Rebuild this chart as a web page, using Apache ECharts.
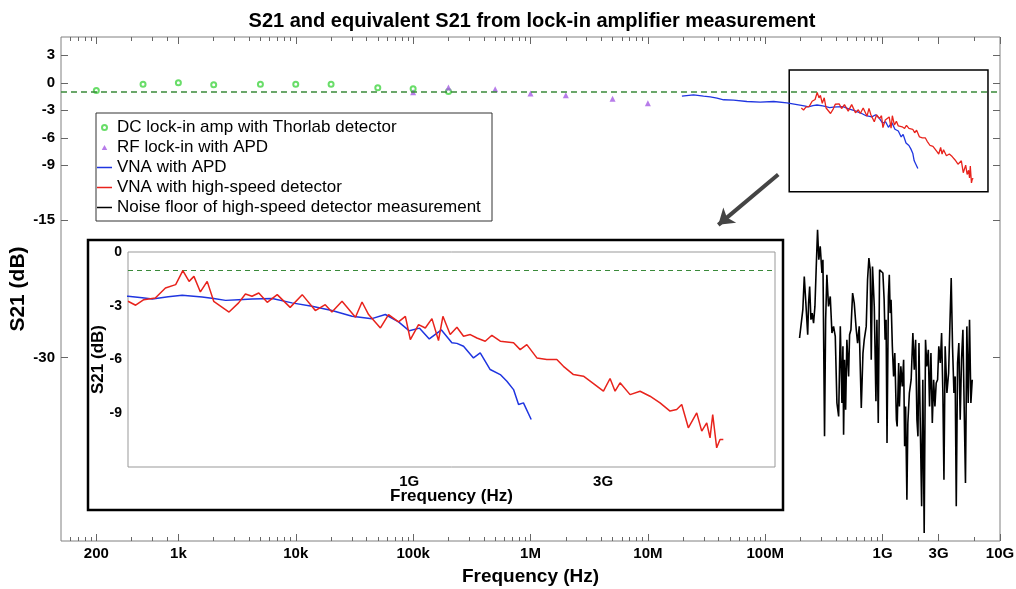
<!DOCTYPE html>
<html><head><meta charset="utf-8">
<script src="https://cdn.jsdelivr.net/npm/echarts@6/dist/echarts.min.js"></script>
<style>html,body{margin:0;padding:0;background:#fff}#c{width:1016px;height:589px}</style>
</head><body><div id="c"></div>
<script>
// ---- data (frequency in Hz, S21 in dB) ----
const dcLockIn = [[200,-0.84],[500,-0.15],[1000,0.0],[2000,-0.22],[5000,-0.15],[1e4,-0.15],[2e4,-0.15],[5e4,-0.55],[1e5,-0.65],[2e5,-0.95]];
const rfLockIn = [[1e5,-1.02],[2e5,-0.51],[5e5,-0.69],[1e6,-1.16],[2e6,-1.35],[5e6,-1.75],[1e7,-2.22]];
const vnaApd = [[1.95e7,-1.45],[2.45e7,-1.31],[2.98e7,-1.45],[3.4e7,-1.53],[3.88e7,-1.67],[4.42e7,-1.85],[5.37e7,-1.89],[6.98e7,-2.04],[9.06e7,-2.11],[1.18e8,-2.04],[1.53e8,-2.2],
  [2.03e8,-2.47],[2.2e8,-2.55],[2.33e8,-2.62],[2.55e8,-2.5],[2.76e8,-2.42],[3.09e8,-2.51],[3.3e8,-2.6],[3.53e8,-2.70],[3.8e8,-2.66],[4.10e8,-2.62],[4.60e8,-2.60],[5.14e8,-2.84],[5.76e8,-3.03],[6.45e8,-3.27],[7.23e8,-3.59],[8.09e8,-3.72],[8.73e8,-3.49],[9.41e8,-3.90],
  [1.0e9,-4.4],[1.06e9,-4.25],[1.12e9,-4.85],[1.2e9,-4.35],[1.273e9,-5.07],[1.31e9,-5.1],[1.36e9,-5.26],[1.439e9,-5.91],[1.495e9,-5.63],[1.582e9,-6.56],[1.675e9,-6.84],[1.739e9,-7.21],[1.806e9,-7.68],[1.858e9,-8.51],[1.91e9,-8.42],[1.996e9,-9.35]];
const vnaHighSpeed = [[2.03e8,-2.75],[2.12e8,-2.97],[2.22e8,-2.66],[2.37e8,-2.57],[2.51e8,-2.01],[2.66e8,-1.82],[2.77e8,-1.04],[2.87e8,-1.64],[2.95e8,-1.36],[3.06e8,-2.23],[3.18e8,-1.64],[3.30e8,-2.75],[3.60e8,-3.35],[3.80e8,-2.84],[3.95e8,-2.34],[4.10e8,-2.47],[4.26e8,-2.29],[4.47e8,-2.81],[4.73e8,-2.38],[5.09e8,-3.09],[5.45e8,-2.38],[5.87e8,-3.27],[6.21e8,-2.94],[6.45e8,-3.35],[6.83e8,-2.75],[7.37e8,-3.64],[7.65e8,-2.79],[7.94e8,-3.49],[8.49e8,-4.24],[8.89e8,-3.49],[9.41e8,-3.90],[9.78e8,-3.59],
  [1.006e9,-4.89],[1.054e9,-4.05],[1.095e9,-4.24],[1.137e9,-3.72],[1.180e9,-4.94],[1.210e9,-3.59],[1.261e9,-4.61],[1.310e9,-4.20],[1.360e9,-4.70],[1.413e9,-4.61],[1.467e9,-4.80],[1.538e9,-4.98],[1.597e9,-4.65],[1.675e9,-4.98],[1.806e9,-5.07],[1.875e9,-5.45],[1.947e9,-5.17],[2.061e9,-5.91],[2.181e9,-6.00],[2.308e9,-6.00],[2.396e9,-6.38],[2.536e9,-6.84],[2.684e9,-6.93],[2.788e9,-7.21],[2.895e9,-7.49],[3.006e9,-7.77],[3.121e9,-7.06],[3.211e9,-7.77],[3.303e9,-7.30],[3.496e9,-7.96],[3.700e9,-7.77],[3.914e9,-8.05],[4.143e9,-8.42],[4.385e9,-8.88],[4.554e9,-8.79],[4.685e9,-8.51],[4.864e9,-9.81],[5.101e9,-8.98],[5.248e9,-10.0],[5.399e9,-9.54],[5.501e9,-10.37],[5.585e9,-9.07],[5.712e9,-10.93],[5.821e9,-10.46],[5.931e9,-10.46]];
const noiseFloor = [[1.96e8,-27.85],[2.01e8,-28.04],[2.09e8,-24.76],[2.15e8,-21.13],[2.21e8,-23.67],[2.26e8,-25.85],[2.30e8,-27.49],[2.34e8,-24.04],[2.39e8,-22.22],[2.45e8,-25.85],[2.51e8,-25.13],[2.58e8,-26.22],[2.65e8,-24.40],[2.72e8,-20.04],[2.79e8,-16.04],[2.86e8,-19.31],[2.94e8,-17.85],[3.04e8,-20.76],[3.10e8,-19.31],[3.20e8,-38.58],[3.27e8,-25.85],[3.35e8,-20.95],[3.46e8,-24.40],[3.58e8,-23.31],[3.70e8,-27.31],[3.82e8,-26.58],[3.95e8,-27.67],[4.08e8,-34.94],[4.22e8,-36.40],[4.36e8,-26.58],[4.50e8,-34.94],[4.59e8,-28.76],[4.65e8,-38.40],[4.74e8,-30.22],[4.84e8,-35.67],[4.96e8,-28.04],[5.13e8,-32.04],[5.23e8,-27.49],[5.37e8,-26.94],[5.55e8,-22.94],[5.73e8,-24.04],[5.96e8,-26.94],[6.12e8,-28.40],[6.32e8,-26.58],[6.58e8,-35.49],[6.80e8,-29.49],[6.97e8,-28.04],[7.25e8,-26.58],[7.44e8,-21.49],[7.64e8,-19.13],[7.84e8,-20.40],[8.00e8,-30.22],[8.20e8,-20.04],[8.49e8,-24.40],[8.77e8,-34.76],[8.94e8,-25.85],[9.18e8,-37.13],[9.42e8,-20.40],[9.54e8,-20.40],[1.005e9,-20.76],[1.03e9,-23.67],[1.05e9,-28.04],[1.07e9,-25.85],[1.09e9,-39.31],[1.12e9,-23.31],[1.14e9,-20.95],[1.16e9,-25.13],[1.18e9,-23.67],[1.21e9,-28.76],[1.24e9,-32.04],[1.27e9,-29.49],[1.31e9,-36.76],[1.33e9,-37.49],[1.37e9,-30.58],[1.39e9,-35.31],[1.43e9,-30.94],[1.47e9,-33.13],[1.51e9,-30.22],[1.54e9,-39.67],[1.57e9,-35.31],[1.61e9,-45.49],[1.64e9,-37.13],[1.69e9,-33.85],[1.75e9,-32.40],[1.81e9,-27.31],[1.86e9,-31.31],[1.91e9,-28.04],[1.96e9,-36.76],[2.00e9,-38.58],[2.04e9,-28.40],[2.09e9,-36.76],[2.15e9,-46.22],[2.20e9,-32.40],[2.26e9,-49.13],[2.32e9,-28.04],[2.38e9,-30.94],[2.45e9,-29.13],[2.51e9,-35.31],[2.58e9,-29.49],[2.65e9,-37.13],[2.72e9,-32.40],[2.79e9,-35.31],[2.86e9,-32.76],[2.94e9,-32.40],[3.01e9,-28.76],[3.10e9,-30.58],[3.18e9,-27.31],[3.26e9,-33.85],[3.33e9,-43.31],[3.41e9,-28.76],[3.53e9,-33.85],[3.65e9,-31.67],[3.74e9,-26.58],[3.84e9,-21.31],[3.94e9,-28.76],[4.05e9,-33.85],[4.15e9,-32.04],[4.24e9,-46.22],[4.35e9,-30.58],[4.46e9,-28.40],[4.58e9,-36.76],[4.70e9,-30.22],[4.83e9,-26.94],[4.95e9,-35.31],[5.08e9,-43.67],[5.22e9,-26.58],[5.36e9,-34.94],[5.50e9,-25.85],[5.65e9,-34.94],[5.80e9,-32.40]];
const seriesNames = ['DC lock-in amp with Thorlab detector','RF lock-in with APD','VNA with APD','VNA with high-speed detector','Noise floor of high-speed detector measurement'];
const referenceLevel = -1;
// tick labels
const xMajorTicks = [200,1e3,1e4,1e5,1e6,1e7,1e8,1e9,3e9,1e10];
const xMajorLabels = ['200','1k','10k','100k','1M','10M','100M','1G','3G','10G'];
const xMinorTicks = [120,140,160,180,400,600,800,
  2e3,3e3,4e3,5e3,6e3,7e3,8e3,9e3, 2e4,3e4,4e4,5e4,6e4,7e4,8e4,9e4,
  2e5,3e5,4e5,5e5,6e5,7e5,8e5,9e5, 2e6,3e6,4e6,5e6,6e6,7e6,8e6,9e6,
  2e7,3e7,4e7,5e7,6e7,7e7,8e7,9e7, 2e8,3e8,4e8,5e8,6e8,7e8,8e8,9e8, 2e9,6e9];
const yMainTicks = [3,0,-3,-6,-9,-15,-30];
const insetXTicks = [1e9,3e9];
const insetXLabels = ['1G','3G'];
const insetYTicks = [0,-3,-6,-9];
// zoom box + arrow annotation (data coordinates)
const zoomBox = [[1.6e8,1.4],[7.9e9,-11.9]];
const arrowLine = [[1.29e8,-10],[3.98e7,-15.5]];

const FONT = 'Liberation Sans, Arial, Helvetica, sans-serif';
const TICKC = '#666';
const LINE_ICON = 'path://M0,0H10V1H0Z';
const TRI_ICON = 'path://M5,0L10,9H0Z';
function fmt(ticks, labels){
  return function(v){
    for (let i=0;i<ticks.length;i++){ if (Math.abs(Math.log10(v)-Math.log10(ticks[i]))<1e-6) return labels[i]; }
    return '';
  };
}
function xAxisBase(grid, pos, min, max){
  return {type:'log', logBase:10, gridIndex:grid, position:pos, min:min, max:max,
    axisLine:{show:false, onZero:false}, splitLine:{show:false}, minorTick:{show:false}, minorSplitLine:{show:false}};
}
const chart = echarts.init(document.getElementById('c'), null, {renderer:'canvas'});
const option = {
  animation:false,
  backgroundColor:'#fff',
  title:{text:'S21 and equivalent S21 from lock-in amplifier measurement', left:527, textAlign:'center', top:6,
    textStyle:{fontFamily:FONT, fontSize:20, fontWeight:'bold', color:'#000'}},
  legend:{
    orient:'vertical', left:96, top:113, padding:[6,3,5,1], itemGap:3, itemWidth:15, itemHeight:5,
    borderColor:'#333', borderWidth:1, selectedMode:false, backgroundColor:'#fff',
    textStyle:{fontFamily:FONT, fontSize:17, color:'#000', lineHeight:17, width:372, overflow:'truncate', ellipsis:''},
    data:[{name:seriesNames[0], icon:'emptyCircle'},{name:seriesNames[1], icon:TRI_ICON},
      {name:seriesNames[2], icon:LINE_ICON},{name:seriesNames[3], icon:LINE_ICON},{name:seriesNames[4], icon:LINE_ICON}]
  },
  graphic:[{type:'rect', shape:{x:88,y:240,width:695,height:270}, style:{fill:null, stroke:'#000', lineWidth:2.5}, z:10, silent:true}],
  grid:[
    {left:61, right:16, top:37, bottom:48, show:true, borderColor:'#808080', borderWidth:1, backgroundColor:'#fff', containLabel:false, outerBoundsMode:'none'},
    {left:128, right:241, top:252, bottom:122, show:true, borderColor:'#999', borderWidth:1, backgroundColor:'#fff', containLabel:false, outerBoundsMode:'none', z:5}
  ],
  xAxis:[
    Object.assign(xAxisBase(0,'bottom',100,1e10), {
      name:'Frequency (Hz)', nameLocation:'middle', nameGap:26, nameMoveOverlap:false,
      nameTextStyle:{fontFamily:FONT, fontSize:19, fontWeight:'bold', color:'#000'},
      axisTick:{show:true, inside:true, length:7, customValues:xMajorTicks, lineStyle:{color:TICKC}},
      axisLabel:{show:true, customValues:xMajorTicks, formatter:fmt(xMajorTicks,xMajorLabels), margin:5,
        fontFamily:FONT, fontSize:15, fontWeight:'bold', color:'#000'}}),
    Object.assign(xAxisBase(0,'bottom',100,1e10), {
      axisTick:{show:true, inside:true, length:4, customValues:xMinorTicks, lineStyle:{color:TICKC}}, axisLabel:{show:false}}),
    Object.assign(xAxisBase(0,'top',100,1e10), {
      axisTick:{show:true, inside:true, length:7, customValues:xMajorTicks, lineStyle:{color:TICKC}}, axisLabel:{show:false}}),
    Object.assign(xAxisBase(0,'top',100,1e10), {
      axisTick:{show:true, inside:true, length:4, customValues:xMinorTicks, lineStyle:{color:TICKC}}, axisLabel:{show:false}}),
    Object.assign(xAxisBase(1,'bottom',2.03e8,7.95e9), {
      name:'Frequency (Hz)', nameLocation:'middle', nameGap:21, nameMoveOverlap:false,
      nameTextStyle:{fontFamily:FONT, fontSize:17, fontWeight:'bold', color:'#000'},
      axisTick:{show:true, inside:true, length:5, customValues:insetXTicks, lineStyle:{color:TICKC}},
      axisLabel:{show:true, customValues:insetXTicks, formatter:fmt(insetXTicks,insetXLabels), margin:7,
        fontFamily:FONT, fontSize:15, fontWeight:'bold', color:'#000'}}),
    Object.assign(xAxisBase(1,'top',2.03e8,7.95e9), {
      axisTick:{show:true, inside:true, length:5, customValues:insetXTicks, lineStyle:{color:TICKC}}, axisLabel:{show:false}})
  ],
  yAxis:[
    {type:'value', gridIndex:0, position:'left', min:-50, max:5,
      name:'S21 (dB)', nameLocation:'middle', nameGap:32, nameRotate:90, nameMoveOverlap:false,
      nameTextStyle:{fontFamily:FONT, fontSize:21, fontWeight:'bold', color:'#000'},
      axisLine:{show:false, onZero:false}, splitLine:{show:false},
      axisTick:{show:true, inside:true, length:7, customValues:yMainTicks, lineStyle:{color:TICKC}},
      axisLabel:{show:true, customValues:yMainTicks, margin:6, fontFamily:FONT, fontSize:15, fontWeight:'bold', color:'#000'}},
    {type:'value', gridIndex:0, position:'right', min:-50, max:5,
      axisLine:{show:false, onZero:false}, splitLine:{show:false},
      axisTick:{show:true, inside:true, length:7, customValues:yMainTicks, lineStyle:{color:TICKC}}, axisLabel:{show:false}},
    {type:'value', gridIndex:1, position:'left', min:-12, max:0,
      name:'S21 (dB)', nameLocation:'middle', nameGap:21, nameRotate:90, nameMoveOverlap:false,
      nameTextStyle:{fontFamily:FONT, fontSize:17, fontWeight:'bold', color:'#000'},
      axisLine:{show:false, onZero:false}, splitLine:{show:false},
      axisTick:{show:true, inside:true, length:5, customValues:insetYTicks, lineStyle:{color:TICKC}},
      axisLabel:{show:true, customValues:insetYTicks, margin:6, fontFamily:FONT, fontSize:14, fontWeight:'bold', color:'#000'}},
    {type:'value', gridIndex:1, position:'right', min:-12, max:0,
      axisLine:{show:false, onZero:false}, splitLine:{show:false},
      axisTick:{show:true, inside:true, length:5, customValues:insetYTicks, lineStyle:{color:TICKC}}, axisLabel:{show:false}}
  ],
  series:[
    {type:'scatter', name:seriesNames[0], xAxisIndex:0, yAxisIndex:0, data:dcLockIn, symbol:'emptyCircle', symbolSize:5,
      itemStyle:{color:'#44d444', borderColor:'#44d444', borderWidth:1}, z:3,
      markLine:{silent:true, symbol:'none', label:{show:false}, lineStyle:{color:'#3a8a3a', width:1.5, type:[6,4]}, data:[{yAxis:referenceLevel}]}},
    {type:'scatter', name:seriesNames[1], xAxisIndex:0, yAxisIndex:0, data:rfLockIn, symbol:'triangle', symbolSize:6,
      itemStyle:{color:'#a55be3'}, z:3},
    {type:'line', name:seriesNames[2], xAxisIndex:0, yAxisIndex:0, data:vnaApd, symbol:'none', lineStyle:{color:'#1f35e0', width:1.3}, itemStyle:{color:'#1f35e0'}},
    {type:'line', name:seriesNames[3], xAxisIndex:0, yAxisIndex:0, data:vnaHighSpeed, symbol:'none', lineStyle:{color:'#e8231c', width:1.3}, itemStyle:{color:'#e8231c'},
      markArea:{silent:true, itemStyle:{color:'rgba(0,0,0,0)', borderColor:'#000', borderWidth:1.5}, label:{show:false},
        data:[[{coord:zoomBox[0]},{coord:zoomBox[1]}]]}},
    {type:'line', name:seriesNames[4], xAxisIndex:0, yAxisIndex:0, data:noiseFloor, symbol:'none', lineStyle:{color:'#000', width:1.6}, itemStyle:{color:'#000'},
      markLine:{silent:true, symbol:['none','arrow'], symbolSize:15, label:{show:false}, lineStyle:{color:'#444', width:4, type:'solid'},
        itemStyle:{color:'#444'}, data:[[{coord:arrowLine[0]},{coord:arrowLine[1]}]]}},
    {type:'line', name:seriesNames[2], xAxisIndex:4, yAxisIndex:2, data:vnaApd, symbol:'none', lineStyle:{color:'#1f35e0', width:1.5}, itemStyle:{color:'#1f35e0'}, z:6},
    {type:'line', name:seriesNames[3], xAxisIndex:4, yAxisIndex:2, data:vnaHighSpeed, symbol:'none', lineStyle:{color:'#e8231c', width:1.5}, itemStyle:{color:'#e8231c'}, z:6,
      markLine:{silent:true, symbol:'none', label:{show:false}, lineStyle:{color:'#3a8a3a', width:1.2, type:[5,4]}, data:[{yAxis:referenceLevel}]}}
  ]
};
chart.setOption(option);
</script></body></html>
